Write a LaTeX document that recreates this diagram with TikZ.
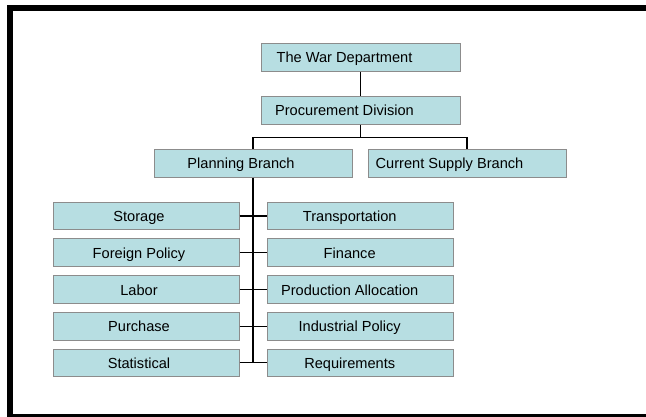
\documentclass[tikz,border=0pt]{standalone}
\usepackage{fontspec}
\setmainfont{Liberation Sans}
\usepackage{tikz}
\usetikzlibrary{positioning}
\definecolor{boxfill}{RGB}{183,222,226}
\definecolor{boxline}{RGB}{140,140,140}
\tikzstyle{unit} = [rectangle, minimum height=28pt, text height=11.6pt, text depth=0pt, draw=boxline, fill=boxfill, line width=1pt, font=\fontsize{14.6}{17}\selectfont]
\tikzstyle{topbox} = [unit, minimum width=199pt, execute at end node={\hspace*{32pt}}]
\tikzstyle{branch} = [unit, minimum width=198pt, execute at end node={\hspace*{24pt}}]
\tikzstyle{branch2} = [unit, minimum width=198pt, execute at end node={\hspace*{35pt}}]
\tikzstyle{leftunit} = [unit, minimum width=186pt, minimum height=27.7pt, execute at end node={\hspace*{14pt}}]
\tikzstyle{rightunit} = [unit, minimum width=186pt, minimum height=27.7pt, execute at end node={\hspace*{22pt}}]
\tikzstyle{link} = [line width=1.2pt]
\tikzstyle{spine} = [line width=1.6pt]
\begin{document}
\begin{tikzpicture}[x=1pt,y=-1pt]
\useasboundingbox (0,0) rectangle (646,417);
% frame
\draw[line width=6pt] (700,8) -- (10.3,8) -- (10.3,416.7) -- (700,416.7);
\node (war) [topbox] at (360.5,57.2) {The War Department};
\node (proc) [topbox, below=24pt of war] {Procurement Division};
\node (plan) [branch, below=24pt of proc, xshift=-107.5pt] {Planning Branch};
\node (cur) [branch2, right=15pt of plan] {Current Supply Branch};
\node (stor) [leftunit, below=24pt of plan, xshift=-107pt] {Storage};
\node (trans) [rightunit, right=27.7pt of stor] {Transportation};
\node (forp) [leftunit, below=8pt of stor] {Foreign Policy};
\node (fin) [rightunit, right=27.7pt of forp] {Finance};
\node (lab) [leftunit, below=8pt of forp] {Labor};
\node (prod) [rightunit, right=27.7pt of lab] {Production Allocation};
\node (pur) [leftunit, below=8pt of lab] {Purchase};
\node (ind) [rightunit, right=27.7pt of pur] {Industrial Policy};
\node (stat) [leftunit, below=8pt of pur] {Statistical};
\node (req) [rightunit, right=27.7pt of stat] {Requirements};
\draw[link] (war.south) -- (proc.north);
\draw[link] (proc.south) -- ++(0,12.5) coordinate (fork);
\draw[link] (fork) -| (plan.north);
\draw[link] (fork) -| (cur.north);
\draw[spine] (plan.south) -- (plan.south |- stat.east);
\draw[link] (stor.east) -- (trans.west);
\draw[link] (forp.east) -- (fin.west);
\draw[link] (lab.east) -- (prod.west);
\draw[link] (pur.east) -- (ind.west);
\draw[link] (stat.east) -- (req.west);
\end{tikzpicture}
\end{document}
